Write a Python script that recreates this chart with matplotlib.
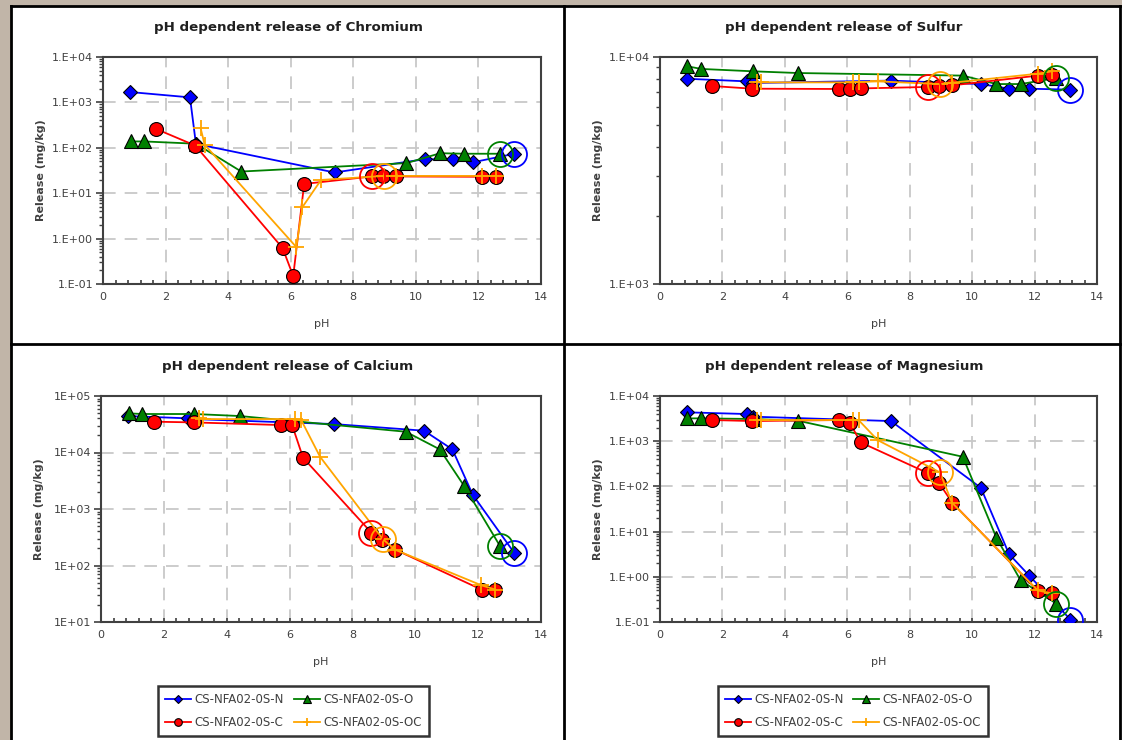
import math
import matplotlib
matplotlib.use("Agg")
import matplotlib.pyplot as plt
import matplotlib.ticker as mticker
from matplotlib.lines import Line2D
from matplotlib.patches import Rectangle

# pH of each sample, per series
ph_n = [0.87, 2.78, 2.97, 7.4, 10.28, 11.18, 11.83, 13.15]
ph_o = [0.88, 1.32, 2.97, 4.42, 9.7, 10.78, 11.55, 12.7]
ph_c = [1.68, 2.95, 5.74, 6.08, 6.43, 8.6, 8.95, 9.36, 12.11, 12.55]
ph_oc = [3.12, 3.25, 6.18, 6.37, 6.97, 8.97, 9.35, 12.1, 12.55]

# release (mg/kg)
cr_n = [1690, 1290, 122, 28.6, 56, 56, 48, 74]
cr_o = [138, 138, 123, 30, 46, 76, 74, 74]
cr_c = [263, 112, 0.62, 0.15, 16, 23.4, 23.4, 23.4, 23, 23]
cr_oc = [270, 117, 0.65, 4.9, 19.6, 24, 24, 24, 24]

s_n = [8020, 7810, 7680, 7870, 7600, 7250, 7250, 7180]
s_o = [9100, 8860, 8650, 8500, 8280, 7600, 7600, 8080]
s_c = [7450, 7250, 7230, 7230, 7270, 7380, 7480, 7500, 8280, 8350]
s_oc = [7730, 7730, 7730, 7760, 7810, 7600, 7700, 8440, 8650]

ca_n = [44100, 40200, 39000, 31900, 24300, 11350, 1780, 167]
ca_o = [49300, 48000, 48000, 44200, 23300, 11350, 2580, 219]
ca_c = [35100, 34100, 30600, 30600, 8070, 383, 288, 191, 37.4, 37.4]
ca_oc = [41300, 39000, 39100, 37500, 8410, 292, 191, 44.7, 37.4]

mg_n = [4350, 3990, 3490, 2790, 93, 3.2, 1.06, 0.113]
mg_o = [3200, 3200, 3100, 2840, 453, 7.26, 0.84, 0.255]
mg_c = [2940, 2790, 2940, 2560, 940, 194, 116, 44, 0.486, 0.44]
mg_oc = [2940, 2940, 2940, 2900, 1060, 204, 44, 0.5, 0.43]

# index of natural pH point (circled)
nat_n, nat_o, nat_c, nat_oc = 7, 7, 5, 5

series_names = ["CS-NFA02-0S-N", "CS-NFA02-0S-O", "CS-NFA02-0S-C", "CS-NFA02-0S-OC"]

styles = {
    "CS-NFA02-0S-N":  dict(color="#0000ff", marker="D", ms=7.5, mec="black", mew=0.8),
    "CS-NFA02-0S-O":  dict(color="#008000", marker="^", ms=10, mec="black", mew=0.8),
    "CS-NFA02-0S-C":  dict(color="#ff0000", marker="o", ms=10, mec="black", mew=0.8),
    "CS-NFA02-0S-OC": dict(color="#ffa500", marker="+", ms=11, mew=1.3),
}

charts = [
    ("Chromium", [cr_n, cr_o, cr_c, cr_oc], (0.1, 1e4), "1.E%+03d", (103, 57, 541, 284), 288),
    ("Sulfur", [s_n, s_o, s_c, s_oc], (1e3, 1e4), "1.E%+03d", (660, 57, 1097, 284), 844),
    ("Calcium", [ca_n, ca_o, ca_c, ca_oc], (10, 1e5), "1E%+03d", (101, 396, 541, 622), 288),
    ("Magnesium", [mg_n, mg_o, mg_c, mg_oc], (0.1, 1e4), "1.E%+03d", (660, 396, 1097, 622), 844),
]

W, H = 1122, 740
GRAY = "#404040"

fig = plt.figure(figsize=(W / 100, H / 100), dpi=100)
fig.patch.set_facecolor("#c1b5a8")

# white sheet with black panel borders
fig.patches.append(Rectangle((11 / W, 0), 1 - 11 / W, 1 - 6 / H, transform=fig.transFigure,
                             facecolor="white", edgecolor="none", zorder=-10))
for xs, ys in [([11, 11], [6, 740]), ([11, 1120], [6, 6]), ([1120, 1120], [6, 740]),
               ([564, 564], [6, 740]), ([11, 1120], [344, 344])]:
    fig.lines.append(Line2D([x / W for x in xs], [1 - y / H for y in ys], transform=fig.transFigure,
                            color="black", lw=2, zorder=-5))

phs = [ph_n, ph_o, ph_c, ph_oc]
nats = [nat_n, nat_o, nat_c, nat_oc]

for name, vals, ylim, fmt, (x0, y0, x1, y1), tcx in charts:
    ax = fig.add_axes([x0 / W, 1 - y1 / H, (x1 - x0) / W, (y1 - y0) / H])
    ax.set_yscale("log")
    for label, ph, v, k in zip(series_names, phs, vals, nats):
        st = styles[label]
        ax.plot(ph, v, lw=1.3, label=label, zorder=3, **st)
        ax.plot(ph[k], v[k], marker="o", ms=18, mfc="none", mec=st["color"], mew=1.3,
                ls="none", zorder=4)
    ax.set_xlim(0, 14)
    ax.set_ylim(*ylim)
    e0, e1 = round(math.log10(ylim[0])), round(math.log10(ylim[1]))
    ax.yaxis.set_major_locator(mticker.FixedLocator([10.0 ** e for e in range(e0, e1 + 1)]))
    ax.yaxis.set_minor_locator(mticker.FixedLocator(
        [m * 10.0 ** e for e in range(e0, e1) for m in range(2, 10)]))
    ax.yaxis.set_minor_formatter(mticker.NullFormatter())
    ax.yaxis.set_major_formatter(mticker.FuncFormatter(
        lambda v, p, f=fmt: f % round(math.log10(v))))
    ax.xaxis.set_major_locator(mticker.MultipleLocator(2))
    ax.xaxis.set_minor_locator(mticker.MultipleLocator(0.4))
    ax.grid(True, which="major", color="#c8c8c8", ls=(0, (7, 5)), lw=1.3)
    ax.set_axisbelow(True)
    for sp in ax.spines.values():
        sp.set_color(GRAY)
        sp.set_linewidth(1.5)
    ax.tick_params(axis="x", which="both", direction="in", length=3, width=1.2, color=GRAY,
                   labelsize=8, labelcolor=GRAY, pad=6)
    ax.tick_params(axis="y", which="major", direction="out", length=5, width=1.2, color=GRAY,
                   labelsize=8, labelcolor=GRAY, pad=2)
    ax.tick_params(axis="y", which="minor", direction="out", length=3, width=1, color=GRAY)
    ax.set_xlabel("pH", fontsize=8, color=GRAY)
    ax.xaxis.set_label_coords(0.5, -0.155)
    ax.set_ylabel("Release (mg/kg)", fontsize=8, color=GRAY, fontweight="bold")
    ax.yaxis.set_label_coords(-0.13, 0.5)
    ty = 28 if y0 < 300 else 366
    fig.text(tcx / W, 1 - ty / H, "pH dependent release of " + name, ha="center", va="center",
             fontsize=9.6, fontweight="bold", color="#202020")

# legends under the bottom panels
handles = []
for label in series_names:
    st = dict(styles[label])
    st["ms"] = st["ms"] * 0.55
    handles.append(Line2D([], [], lw=1.3, label=label, **st))
order = [0, 2, 1, 3]
for cx in [293.5, 853]:
    leg = fig.legend([handles[i] for i in order], [series_names[i] for i in order],
                     loc="center", bbox_to_anchor=(cx / W, 1 - 711 / H), ncol=2,
                     frameon=True, fancybox=False, edgecolor="black",
                     handlelength=2.2, handletextpad=0.3, columnspacing=0.8,
                     borderpad=0.6, labelspacing=0.9,
                     prop={"family": ["Liberation Sans Narrow", "DejaVu Sans"], "size": 8.5})
    leg.get_frame().set_linewidth(1.8)
    for t in leg.get_texts():
        t.set_color(GRAY)

fig.savefig("out.png", dpi=100)
